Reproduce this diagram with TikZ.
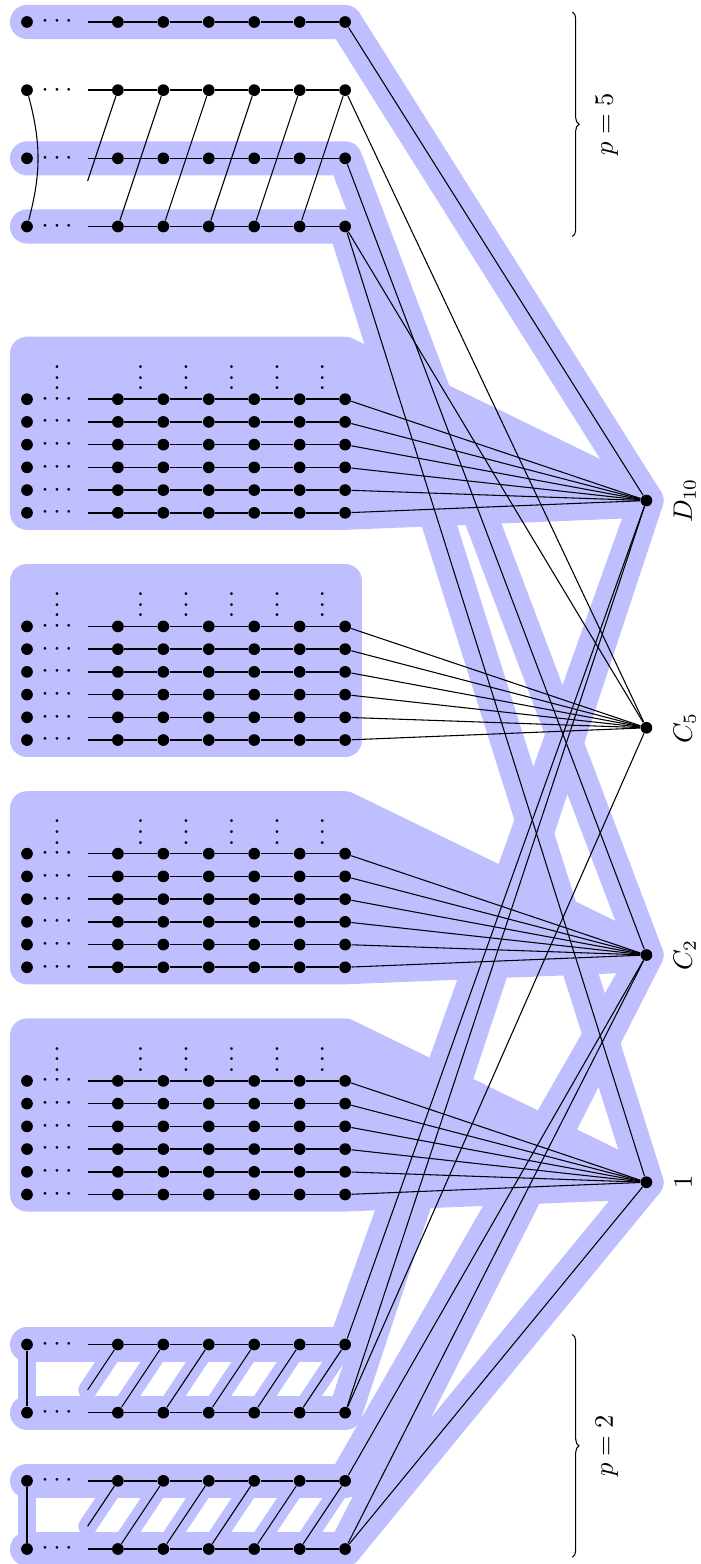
\documentclass[tikz,border=0pt]{standalone}
\usetikzlibrary{decorations.pathreplacing}

\pgfdeclarelayer{background}
\pgfsetlayers{background,main}

% One strand: big dot, dots, and a chain of six vertices
\newcommand{\chainrow}[2]{%
	\node [vertex] (#1-0) at (0, #2) {};
	\node [inner sep = 0pt] (#1-c) at (0.66, #2) {$\cdots$};
	\coordinate (#1-1) at (4/3, #2);
	\foreach \kk in {2, ..., 7}
		\node [vertex] (#1-\kk) at (\kk, #2) {};
	\foreach \kk [count = \jj from 2] in {1, ..., 6}
		\draw [rowline] (#1-\kk) -- (#1-\jj);
}

\begin{document}
\begin{tikzpicture}[x = 0.6cm, y = 0.6cm,
	vertex/.style = {circle, fill, inner sep = 0pt, minimum size = 4.4pt},
	rowline/.style = {semithick},
	band/.style = {line width = 12.8pt, blue!25, line cap = round, line join = round},
	thinband/.style = {band, line width = 7pt}]

	\useasboundingbox (-0.594, 0.484) rectangle (14.81, -33.93);

	% Strands for p = 5 and p = 2
	
	\foreach \nm/\y in {fiveA/0, fiveB/-1.5, fiveC/-3, fiveD/-4.5, twoA/-29.1, twoB/-30.6, twoC/-32.1, twoD/-33.6} {
		\chainrow{\nm}{\y}
	}

	% Blocks of six strands
	
	\foreach \blk/\ty in {dten/-8.3, cfive/-13.3, ctwo/-18.3, one/-23.3} {
		\foreach \ii in {1, ..., 6} {
			\chainrow{\blk\ii}{\ty - 0.5 * \ii + 0.5}
		}
		\foreach \x [count = \n] in {0.66, 2.5, 3.5, 4.5, 5.5, 6.5}
			\node [anchor = base, inner sep = 0pt] (\blk-v\n) at (\x, \ty + 0.21) {$\vdots$};
		\coordinate (\blk-tl) at (0, \ty + 1);
		\coordinate (\blk-tr) at (7, \ty + 1);
	}

	% Subgroups with labels
	
	\foreach \rt/\ry/\lab in {Dten/-10.53/D_{10}, Cfive/-15.53/C_5, Ctwo/-20.53/C_2, One/-25.53/1} {
		\node [vertex] (\rt) at (13.63, \ry) {};
		\node [rotate = 90, anchor = base] (\rt-l) at (14.63, \ry) {$\lab$};
	}

	% Edges to the subgroups
	
	\foreach \blk/\rt in {dten/Dten, cfive/Cfive, ctwo/Ctwo, one/One}
		\foreach \ii in {1, ..., 6}
			\draw (\blk\ii-7) -- (\rt);

	\foreach \s/\rt in {fiveA/Dten, fiveB/Cfive, fiveC/Ctwo, fiveD/One, fiveD/Cfive, twoA/Dten, twoB/Dten, twoB/Cfive, twoC/Ctwo, twoD/Ctwo, twoD/One}
		\draw (\s-7) -- (\rt);

	% Twisted strands
	
	\coordinate (fiveB-t) at (4/3, -3.5);
	\coordinate (twoA-t) at (4/3, -30.1);
	\coordinate (twoC-t) at (4/3, -33.1);

	\foreach \kk [count = \jj from 3] in {2, ..., 6}
		\draw (fiveD-\kk) -- (fiveB-\jj);
	\draw (fiveB-2) -- (fiveB-t);
	\draw (fiveB-0) to [bend left = 15] (fiveD-0);

	\foreach \up/\lo in {twoA/twoB, twoC/twoD} {
		\foreach \kk [count = \jj from 3] in {2, ..., 6}
			\draw (\lo-\kk) -- (\up-\jj);
		\draw (\up-2) -- (\up-t);
		\draw (\up-0) -- (\lo-0);
	}

	% Braces
	
	\coordinate (bfive-a) at (12, 0.22);
	\coordinate (bfive-b) at (12, -4.72);
	\coordinate (btwo-a) at (12, -28.88);
	\coordinate (btwo-b) at (12, -33.78);
	\draw [decorate, decoration = brace] (bfive-a) -- (bfive-b);
	\draw [decorate, decoration = brace] (btwo-a) -- (btwo-b);
	\node [rotate = 90, anchor = base] (pfive) at (12.89, -2.25) {$p = 5$};
	\node [rotate = 90, anchor = base] (ptwo) at (12.89, -31.33) {$p = 2$};

	% Highlighted parts
	
	\begin{pgfonlayer}{background}
		\foreach \blk/\rt in {dten/Dten, ctwo/Ctwo, one/One}
			\filldraw [band, fill = blue!25] (\blk-tl) -- (\blk-tr) -- (\rt.center) -- (\blk6-7.center) -- (\blk6-0.center) -- cycle;
		\filldraw [band, fill = blue!25] (cfive-tl) -- (cfive-tr) -- (cfive6-7.center) -- (cfive6-0.center) -- cycle;

		\draw [band] (fiveA-0.center) -- (fiveA-7.center) -- (Dten.center);
		\draw [band] (fiveC-0.center) -- (fiveC-7.center) -- (Ctwo.center);
		\draw [band] (fiveD-0.center) -- (fiveD-7.center) -- (One.center);

		\foreach \up/\lo in {twoA/twoB, twoC/twoD} {
			\draw [band] (\up-0.center) -- (\up-7.center);
			\draw [band] (\lo-0.center) -- (\lo-7.center);
			\draw [thinband] (\up-0.center) -- (\lo-0.center);
			\draw [thinband] (\up-2.center) -- (\up-t);
			\foreach \kk [count = \jj from 3] in {2, ..., 6}
				\draw [thinband] (\lo-\kk.center) -- (\up-\jj.center);
		}
		\draw [band] (twoA-7.center) -- (Dten.center) -- (twoB-7.center);
		\draw [band] (twoC-7.center) -- (Ctwo.center) -- (twoD-7.center) -- (One.center);
	\end{pgfonlayer}

\end{tikzpicture}
\end{document}
